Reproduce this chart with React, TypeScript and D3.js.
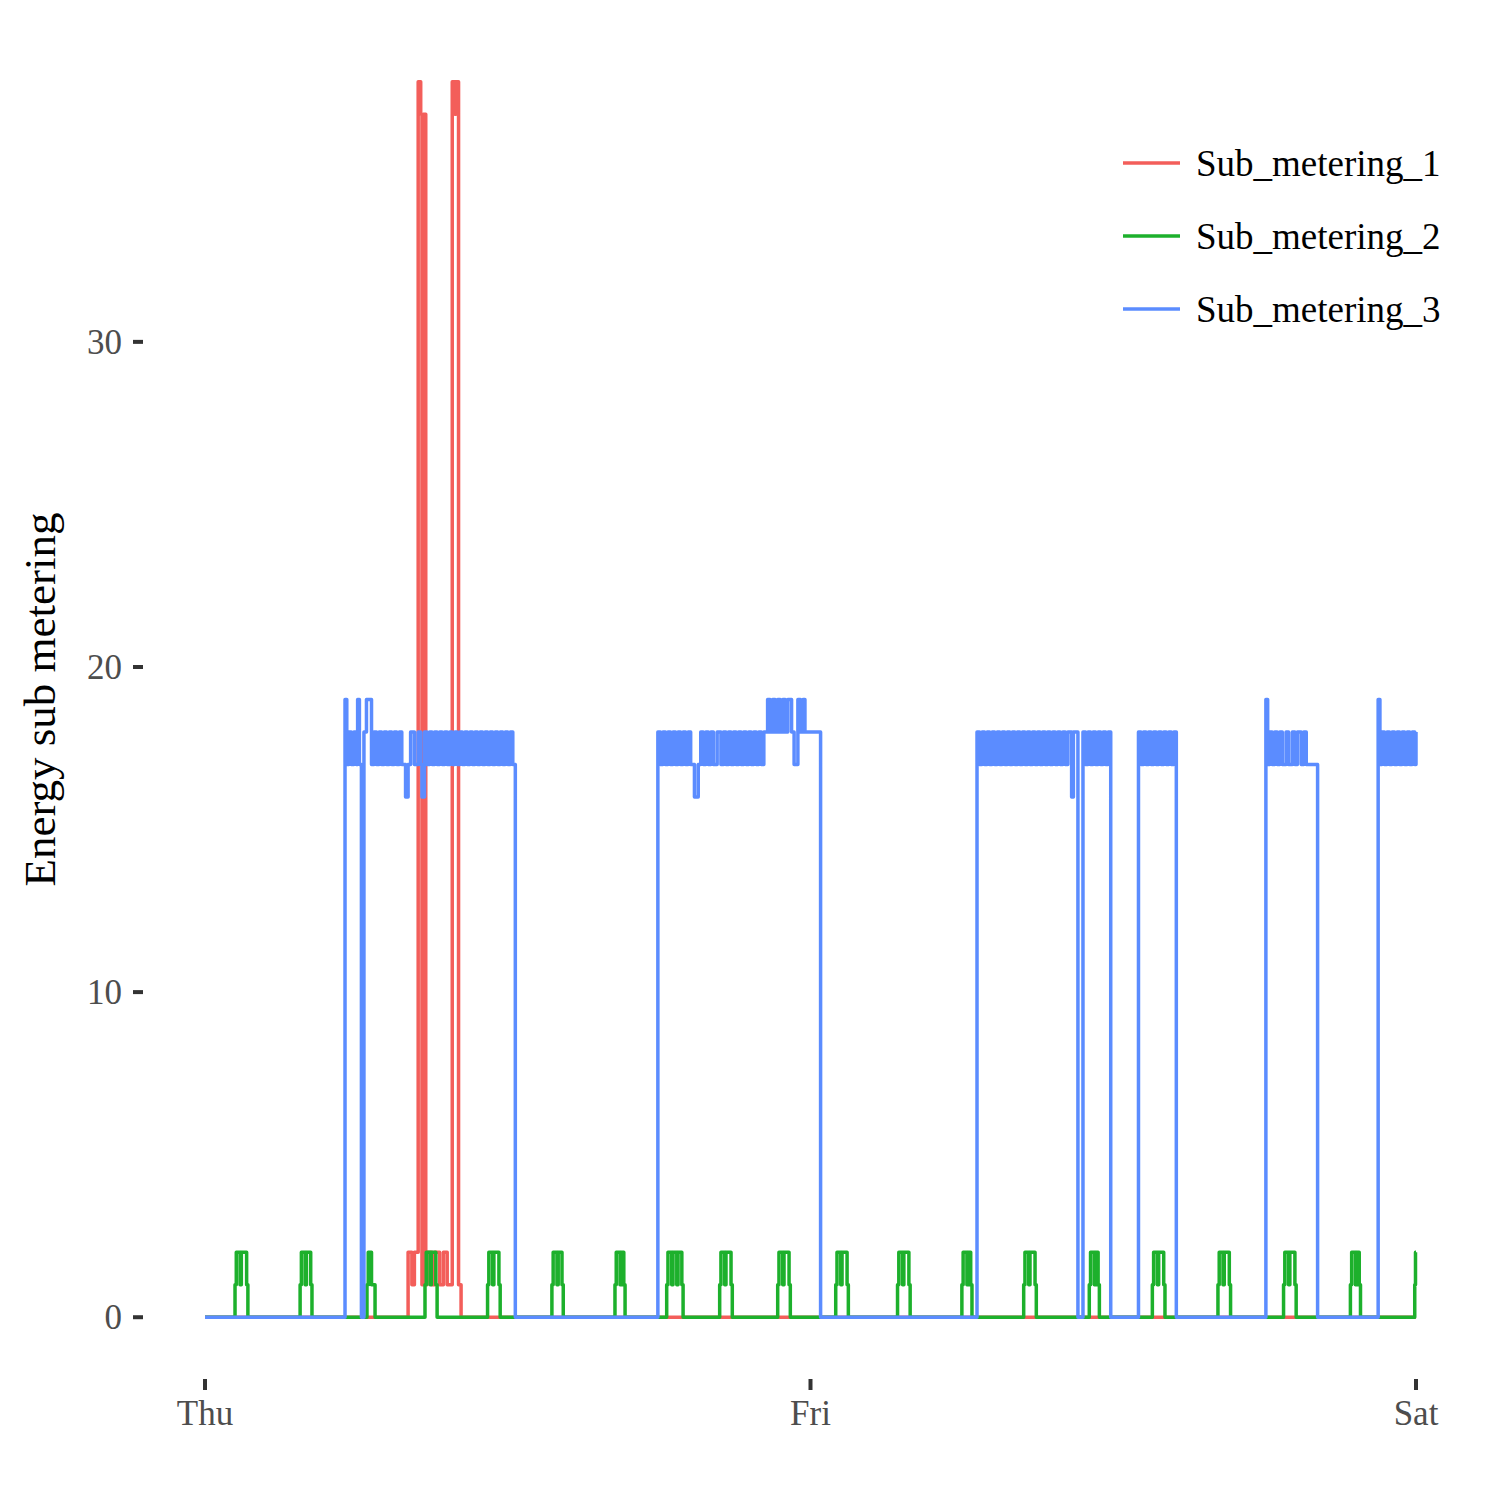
import React from "react";
import * as d3 from "d3";

const dayLabels = ["Thu", "Fri", "Sat"];
const dayHours = [0, 24, 48];
const yTicks = [0, 10, 20, 30];
const seriesNames = ["Sub_metering_1", "Sub_metering_2", "Sub_metering_3"];
const seriesColors = ["#F35E5A", "#1DB02C", "#5B8CFF"];

const sub1: [number, number][] = [
  [0, 0], [8.05, 2], [8.2, 1], [8.3, 2], [8.45, 38], [8.55, 37], [8.6, 1], [8.65, 37], [8.75, 1], [8.8, 2],
  [9.0, 1], [9.1, 2], [9.3, 1], [9.45, 2], [9.6, 1], [9.8, 38], [9.9, 37], [9.95, 38], [10.05, 1], [10.15, 0], [48, 0],
];

const sub2: [number, number][] = [
  [0, 0],
  [1.19, 1], [1.24, 2], [1.39, 1], [1.44, 2], [1.65, 1], [1.7, 0],
  [3.77, 1], [3.82, 2], [3.97, 1], [4.02, 2], [4.19, 1], [4.24, 0],
  [6.42, 1], [6.47, 2], [6.6, 1], [6.74, 0],
  [8.72, 1], [8.77, 2], [8.92, 1], [8.97, 2], [9.15, 1], [9.2, 0],
  [11.2, 1], [11.25, 2], [11.4, 1], [11.45, 2], [11.65, 1], [11.7, 0],
  [13.75, 1], [13.8, 2], [13.95, 1], [14.0, 2], [14.15, 1], [14.2, 0],
  [16.25, 1], [16.3, 2], [16.45, 1], [16.5, 2], [16.6, 1], [16.65, 0],
  [18.3, 1], [18.35, 2], [18.5, 1], [18.55, 2], [18.7, 1], [18.75, 2], [18.9, 1], [18.95, 0],
  [20.4, 1], [20.45, 2], [20.6, 1], [20.65, 2], [20.85, 1], [20.9, 0],
  [22.7, 1], [22.75, 2], [22.9, 1], [22.95, 2], [23.15, 1], [23.2, 0],
  [25.0, 1], [25.05, 2], [25.2, 1], [25.25, 2], [25.45, 1], [25.5, 0],
  [27.45, 1], [27.5, 2], [27.65, 1], [27.7, 2], [27.9, 1], [27.95, 0],
  [30.0, 1], [30.05, 2], [30.2, 1], [30.25, 2], [30.35, 1], [30.4, 0],
  [32.45, 1], [32.5, 2], [32.65, 1], [32.7, 2], [32.9, 1], [32.95, 0],
  [35.05, 1], [35.1, 2], [35.25, 1], [35.3, 2], [35.4, 1], [35.45, 0],
  [37.55, 1], [37.6, 2], [37.75, 1], [37.8, 2], [38.0, 1], [38.05, 0],
  [40.15, 1], [40.2, 2], [40.35, 1], [40.4, 2], [40.6, 1], [40.65, 0],
  [42.75, 1], [42.8, 2], [42.95, 1], [43.0, 2], [43.2, 1], [43.25, 0],
  [45.4, 1], [45.45, 2], [45.6, 1], [45.65, 2], [45.75, 1], [45.8, 0],
  [47.95, 1], [47.98, 2], [48, 2],
];

const sub3: [number, number][] = [
  [0, 0],
  [5.55, 19], [5.62, 17], [5.7, 18], [5.8, 17], [5.9, 18], [6.0, 17], [6.05, 19], [6.12, 17], [6.2, 0],
  [6.3, 18], [6.4, 19], [6.6, 17], [6.7, 18], [6.8, 17], [6.9, 18], [7.0, 17], [7.1, 18], [7.2, 17], [7.3, 18],
  [7.4, 17], [7.5, 18], [7.6, 17], [7.7, 18], [7.8, 17], [7.95, 16], [8.05, 17], [8.15, 18], [8.3, 17], [8.45, 18],
  [8.55, 17], [8.6, 16], [8.7, 18], [8.8, 17], [8.9, 18], [9.0, 17], [9.1, 18], [9.2, 17], [9.3, 18], [9.4, 17],
  [9.5, 18], [9.6, 17], [9.7, 18], [9.8, 17], [9.9, 18], [10.0, 17], [10.1, 18], [10.2, 17], [10.3, 18], [10.4, 17],
  [10.5, 18], [10.6, 17], [10.7, 18], [10.8, 17], [10.9, 18], [11.0, 17], [11.1, 18], [11.2, 17], [11.3, 18], [11.4, 17],
  [11.5, 18], [11.6, 17], [11.7, 18], [11.8, 17], [11.9, 18], [12.0, 17], [12.1, 18], [12.2, 17], [12.3, 0],
  [17.95, 18], [18.05, 17], [18.15, 18], [18.25, 17], [18.35, 18], [18.45, 17], [18.55, 18], [18.65, 17], [18.75, 18],
  [18.85, 17], [18.95, 18], [19.05, 17], [19.15, 18], [19.25, 17], [19.4, 16], [19.55, 17], [19.65, 18], [19.75, 17],
  [19.85, 18], [19.95, 17], [20.05, 18], [20.15, 17], [20.3, 18], [20.45, 17], [20.55, 18], [20.65, 17], [20.75, 18],
  [20.85, 17], [20.95, 18], [21.05, 17], [21.15, 18], [21.25, 17], [21.35, 18], [21.45, 17], [21.55, 18], [21.65, 17],
  [21.75, 18], [21.85, 17], [21.95, 18], [22.05, 17], [22.15, 18], [22.3, 19], [22.4, 18], [22.5, 19], [22.6, 18],
  [22.7, 19], [22.8, 18], [22.9, 19], [23.0, 18], [23.1, 19], [23.25, 18], [23.35, 17], [23.5, 19], [23.6, 18],
  [23.7, 19], [23.78, 18], [24.4, 0],
  [30.6, 18], [30.7, 17], [30.8, 18], [30.9, 17], [31.0, 18], [31.1, 17], [31.2, 18], [31.3, 17], [31.4, 18],
  [31.5, 17], [31.6, 18], [31.7, 17], [31.8, 18], [31.9, 17], [32.0, 18], [32.1, 17], [32.2, 18], [32.3, 17],
  [32.4, 18], [32.5, 17], [32.6, 18], [32.7, 17], [32.8, 18], [32.9, 17], [33.0, 18], [33.1, 17], [33.2, 18],
  [33.3, 17], [33.4, 18], [33.5, 17], [33.6, 18], [33.7, 17], [33.8, 18], [33.9, 17], [34.0, 18], [34.1, 17],
  [34.2, 18], [34.35, 16], [34.42, 18], [34.6, 0],
  [34.8, 18], [34.9, 17], [35.0, 18], [35.1, 17], [35.2, 18], [35.3, 17], [35.4, 18], [35.5, 17], [35.6, 18],
  [35.7, 17], [35.8, 18], [35.9, 0],
  [37.0, 18], [37.1, 17], [37.2, 18], [37.3, 17], [37.4, 18], [37.5, 17], [37.6, 18], [37.7, 17], [37.8, 18],
  [37.9, 17], [38.0, 18], [38.1, 17], [38.2, 18], [38.3, 17], [38.4, 18], [38.5, 0],
  [42.05, 19], [42.12, 17], [42.2, 18], [42.3, 17], [42.4, 18], [42.5, 17], [42.6, 18], [42.7, 17], [42.85, 18],
  [42.95, 17], [43.1, 18], [43.2, 17], [43.3, 18], [43.45, 17], [43.55, 18], [43.65, 17], [43.8, 17], [44.1, 0],
  [46.5, 19], [46.57, 17], [46.65, 18], [46.75, 17], [46.85, 18], [46.95, 17], [47.05, 18], [47.15, 17], [47.25, 18],
  [47.35, 17], [47.45, 18], [47.55, 17], [47.65, 18], [47.75, 17], [47.85, 18], [47.95, 17], [48, 18],
];

const allSeries = [sub1, sub2, sub3];

export default function App() {
  const W = 1500, H = 1500;
  const x = d3.scaleLinear().domain([0, 48]).range([205, 1416]);
  const y = d3.scaleLinear().domain([-1.9, 39.9]).range([1379, 20]);
  const line = d3.line<[number, number]>().x((d) => x(d[0])).y((d) => y(d[1])).curve(d3.curveStepAfter);
  const font = "'Liberation Serif', 'Times New Roman', serif";
  return (
    <svg width={W} height={H} style={{ position: "absolute", left: 0, top: 0, background: "white" }} fontFamily={font}>
      {allSeries.map((s, i) => (
        <path key={i} d={line(s) || ""} fill="none" stroke={seriesColors[i]} strokeWidth={3.5} strokeLinejoin="round" />
      ))}
      {yTicks.map((t) => (
        <g key={t}>
          <line x1={133} x2={143} y1={y(t)} y2={y(t)} stroke="#333" strokeWidth={4} />
          <text x={122} y={y(t)} dy="0.35em" textAnchor="end" fontSize={35} fill="#4d4d4d">{t}</text>
        </g>
      ))}
      {dayHours.map((h, i) => (
        <g key={h}>
          <line x1={x(h)} x2={x(h)} y1={1379} y2={1390} stroke="#333" strokeWidth={4} />
          <text x={x(h)} y={1425} textAnchor="middle" fontSize={35} fill="#4d4d4d">{dayLabels[i]}</text>
        </g>
      ))}
      <text transform={`translate(55,${y(19)}) rotate(-90)`} textAnchor="middle" fontSize={45} fill="#000">Energy sub metering</text>
      {seriesNames.map((n, i) => (
        <g key={n}>
          <line x1={1123} x2={1180} y1={163 + i * 73} y2={163 + i * 73} stroke={seriesColors[i]} strokeWidth={3.5} />
          <text x={1196} y={163 + i * 73} dy="0.35em" fontSize={37} fill="#000">{n}</text>
        </g>
      ))}
    </svg>
  );
}
